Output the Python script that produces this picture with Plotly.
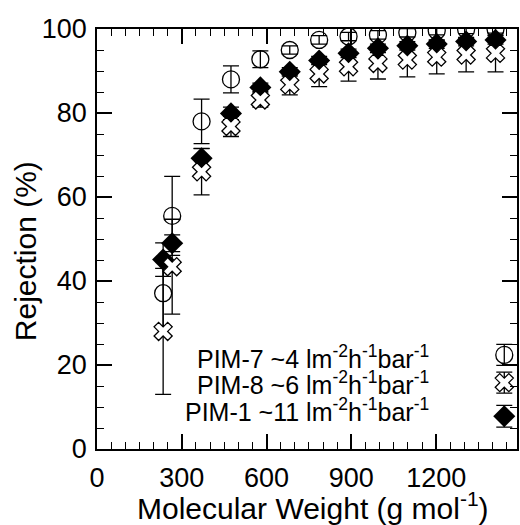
import plotly.graph_objects as go

# Data (molecular weight in g/mol, rejection in %)
MW = [234, 266, 370, 474, 578, 682, 786, 890, 994, 1098, 1202, 1306, 1410]

PIM7 = [37.1, 55.5, 78.0, 88.0, 92.8, 95.0, 97.4, 98.2, 98.6, 99.1, 99.6, 99.9, 100.0]
PIM7_ERR = [7.8, 9.4, 5.3, 3.2, 2.0, 1.0, 1.0, 1.0, 1.0, 1.0, 1.0, 1.0, 1.0]

PIM8 = [28.0, 43.4, 66.0, 76.8, 83.1, 86.7, 89.3, 91.0, 91.8, 92.6, 93.3, 93.8, 94.2]
PIM8_ERR = [15.0, 11.3, 5.5, 2.4, 1.7, 2.4, 3.0, 3.4, 3.7, 4.0, 4.0, 4.0, 4.4]

PIM1 = [45.1, 49.0, 69.2, 79.9, 86.1, 89.8, 92.5, 94.2, 95.4, 96.0, 96.4, 97.0, 97.4]
PIM1_ERR = [4.0, 2.0, 2.4, 1.5, 1.0, 1.0, 1.0, 1.0, 1.0, 1.0, 1.0, 1.0, 1.0]

X_TITLE = "Molecular Weight (g mol<sup>-1</sup>)"
Y_TITLE = "Rejection (%)"
X_TICKS = [0, 300, 600, 900, 1200]
Y_TICKS = [0, 20, 40, 60, 80, 100]

LEGEND_LABELS = [
    "PIM-7 ~4 lm<sup>-2</sup>h<sup>-1</sup>bar<sup>-1</sup>",
    "PIM-8 ~6 lm<sup>-2</sup>h<sup>-1</sup>bar<sup>-1</sup>",
    "PIM-1 ~11 lm<sup>-2</sup>h<sup>-1</sup>bar<sup>-1</sup>",
]
LEGEND_TEXT_X = 1182
LEGEND_TEXT_Y = [22.0, 15.7, 9.3]
LEGEND_MARK_X = 1441
LEGEND_MARK_Y = [22.4, 15.8, 7.8]
LEGEND_MARK_ERR = [2.5, 2.5, 2.6]

FONT = "Liberation Sans, Arial, sans-serif"

def err(arr):
    return dict(type="data", array=arr, visible=True, color="black",
                thickness=1.3, width=8)

circle = dict(symbol="circle-open", size=17, color="black", line=dict(width=1.3, color="black"))
cross = dict(symbol="x", size=16, color="white", line=dict(width=1.3, color="black"))
diamond = dict(symbol="diamond", size=17, color="black", line=dict(width=0))

fig = go.Figure()
fig.add_trace(go.Scatter(x=MW, y=PIM7, mode="markers", marker=circle, error_y=err(PIM7_ERR), showlegend=False))
fig.add_trace(go.Scatter(x=MW, y=PIM1, mode="markers", marker=diamond, error_y=err(PIM1_ERR), showlegend=False))
fig.add_trace(go.Scatter(x=MW, y=PIM8, mode="markers", marker=cross, error_y=err(PIM8_ERR), showlegend=False))

# legend keys drawn to the right of the text, as in the original
fig.add_trace(go.Scatter(x=[LEGEND_MARK_X], y=[LEGEND_MARK_Y[0]], mode="markers", marker=circle,
                         error_y=err([LEGEND_MARK_ERR[0]]), showlegend=False, cliponaxis=False))
fig.add_trace(go.Scatter(x=[LEGEND_MARK_X], y=[LEGEND_MARK_Y[2]], mode="markers", marker=diamond,
                         error_y=err([LEGEND_MARK_ERR[2]]), showlegend=False, cliponaxis=False))
fig.add_trace(go.Scatter(x=[LEGEND_MARK_X], y=[LEGEND_MARK_Y[1]], mode="markers", marker=cross,
                         error_y=err([LEGEND_MARK_ERR[1]]), showlegend=False, cliponaxis=False))

for lab, ly in zip(LEGEND_LABELS, LEGEND_TEXT_Y):
    fig.add_annotation(x=LEGEND_TEXT_X, y=ly, xref="x", yref="y", text=lab, showarrow=False,
                       xanchor="right", yanchor="middle", align="right",
                       font=dict(family=FONT, size=25, color="black"))

# axis titles
fig.add_annotation(x=0.515, y=-0.135, xref="paper", yref="paper", text=X_TITLE, showarrow=False,
                   xanchor="center", yanchor="middle", font=dict(family=FONT, size=30, color="black"))
fig.add_annotation(x=-0.17, y=0.47, xref="paper", yref="paper", text=Y_TITLE, showarrow=False,
                   textangle=-90, xanchor="center", yanchor="middle",
                   font=dict(family=FONT, size=30, color="black"))

axis_common = dict(
    showline=True, linecolor="black", linewidth=1.5, mirror="ticks",
    ticks="inside", ticklen=15, tickwidth=1.5, tickcolor="black",
    showgrid=False, zeroline=False, automargin=False,
    tickfont=dict(family=FONT, size=27, color="black"),
)

fig.update_xaxes(
    range=[0, 1486], tickmode="array", tickvals=X_TICKS,
    ticktext=[str(v) for v in X_TICKS],
    minor=dict(ticks="inside", ticklen=7, tickwidth=1.2, tickcolor="black", dtick=50, tick0=0),
    ticklabelstandoff=4,
    **axis_common,
)
fig.update_yaxes(
    range=[0, 100], tickmode="array", tickvals=Y_TICKS,
    ticktext=[str(v) for v in Y_TICKS],
    minor=dict(ticks="inside", ticklen=7, tickwidth=1.2, tickcolor="black", dtick=5, tick0=0),
    ticklabelstandoff=3,
    **axis_common,
)

fig.update_layout(
    width=520, height=525,
    margin=dict(l=97, r=3, t=29, b=76),
    plot_bgcolor="white", paper_bgcolor="white",
    font=dict(family=FONT, color="black"),
)

# remove the default page margin / scrollbars so the 520x525 figure fills the window exactly
fig.write_html(
    "out.html",
    config={"displayModeBar": False},
    post_script="document.body.style.margin='0';document.body.style.overflow='hidden';"
                "document.documentElement.style.overflow='hidden';",
)
